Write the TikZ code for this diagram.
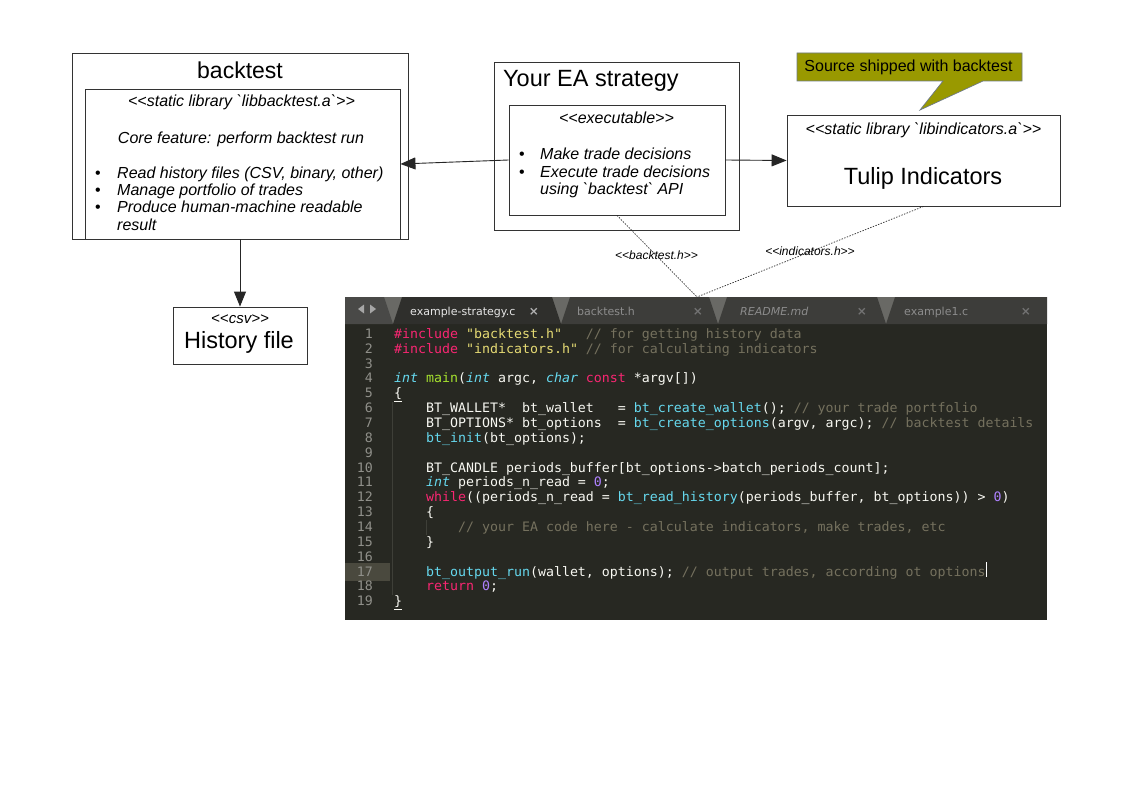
\documentclass[tikz,border=0pt]{standalone}
\usepackage{fontspec}
\usepackage{xcolor}
\usetikzlibrary{arrows.meta,positioning}

\newfontfamily\diafont{Liberation Sans}
\newfontfamily\uifont{DejaVu Sans}
\newfontfamily\codefont[FakeStretch=1.021]{DejaVu Sans Mono}

\definecolor{notefill}{RGB}{153,153,0}
\definecolor{noteline}{RGB}{110,122,135}
\definecolor{edbg}{HTML}{272822}
\definecolor{tabgap}{HTML}{696965}
\definecolor{tableft}{HTML}{494947}
\definecolor{tabon}{HTML}{2F2F2C}
\definecolor{taboff}{HTML}{3D3D3A}
\definecolor{curline}{RGB}{74,73,62}
\definecolor{mfg}{HTML}{F8F8F2}
\definecolor{mkw}{HTML}{F92672}
\definecolor{mstr}{HTML}{E6DB74}
\definecolor{mcm}{HTML}{75715E}
\definecolor{mfn}{HTML}{A6E22E}
\definecolor{mty}{HTML}{66D9EF}
\definecolor{mnum}{HTML}{AE81FF}
\definecolor{lnum}{HTML}{90908A}
\definecolor{guide}{HTML}{3E3F38}

% code tokens
\newcommand{\ckw}[1]{\textcolor{mkw}{#1}}
\newcommand{\cst}[1]{\textcolor{mstr}{#1}}
\newcommand{\ccm}[1]{\textcolor{mcm}{#1}}
\newcommand{\cfn}[1]{\textcolor{mfn}{#1}}
\newcommand{\cty}[1]{\textcolor{mty}{\itshape #1}}
\newcommand{\cbi}[1]{\textcolor{mty}{#1}}
\newcommand{\cnm}[1]{\textcolor{mnum}{#1}}
\newcommand{\cby}[1]{338.3+(#1-1)*14.86}
\newcommand{\tick}{\textasciigrave}

\begin{document}
\begin{tikzpicture}[x=1pt, y=-1pt,
    box/.style={draw=black!80, line width=0.9pt, inner sep=0pt},
    arr/.style={-{Triangle[length=15pt, width=12pt]}, line width=0.9pt, black!85},
    hdrlink/.style={dash pattern=on 1.4pt off 1.4pt, line width=0.7pt, black!85},
    title/.style={font=\diafont\fontsize{23.5}{26}\selectfont, inner sep=0pt, anchor=base},
    stereo/.style={font=\diafont\fontsize{16}{17.3}\selectfont\itshape, inner sep=0pt, anchor=base},
    hdr/.style={font=\diafont\fontsize{12}{14}\selectfont\itshape, inner sep=0pt, anchor=base},
    code/.style={font=\codefont\fontsize{13}{15}\selectfont, text=mfg, inner sep=0pt, anchor=base west},
    tabtxt/.style={font=\uifont\fontsize{11}{13}\selectfont, inner sep=0pt, anchor=base west},
    tabx/.style={font=\uifont\bfseries\fontsize{12}{13}\selectfont, inner sep=0pt}]
\fill[white] (0,0) rectangle (1123,794);
\useasboundingbox (0,0) rectangle (1123,794);

% backtest library
\node[box, minimum width=336pt, minimum height=186pt] (btouter) at (240,146) {};
\node[box, minimum width=315pt, minimum height=150pt] (btinner) at (242.5,164) {};
\node[title, font=\diafont\fontsize{23}{26}\selectfont] (bttitle) at (240,78.5) {backtest};
\node[stereo] (btlib) at (241.5,107) {<{}<static library \tick libbacktest.a\tick>{}>};
\node[stereo] (btcore) at (241,143.3) {Core feature: perform backtest run};
\node[stereo, anchor=base west] (btlist) at (95,178.3)
  {\begin{tabular}[t]{@{}p{22pt}@{}l@{}}
   {\upshape\textbullet} & Read history files (CSV, binary, other)\\
   {\upshape\textbullet} & Manage portfolio of trades\\
   {\upshape\textbullet} & Produce human-machine readable\\
   & result
   \end{tabular}};

% EA strategy
\node[box, minimum width=245pt, minimum height=168pt] (eaouter) at (616.5,146) {};
\node[box, minimum width=216pt, minimum height=110pt] (eainner) at (617,160) {};
\node[title, anchor=base west] (eatitle) at (503,87) {Your EA strategy};
\node[stereo] (eaexe) at (616.5,123.3) {<{}<executable>{}>};
\node[stereo, anchor=base west] (ealist) at (519,160)
  {\begin{tabular}[t]{@{}p{21pt}@{}l@{}}
   {\upshape\textbullet} & Make trade decisions\\
   {\upshape\textbullet} & Execute trade decisions\\
   & using \tick backtest\tick{} API
   \end{tabular}};

% tulip indicators and note
\node[box, minimum width=273pt, minimum height=91pt] (tulip) at (923.5,160.5) {};
\node[stereo] (tulib) at (923.5,135) {<{}<static library \tick libindicators.a\tick>{}>};
\node[title] (tuname) at (923,184.3) {Tulip Indicators};
\coordinate (notetip) at (920,110);
\filldraw[fill=notefill, draw=noteline, line width=0.7pt]
  (797,53) -- (1022,53) -- (1022,81) -- (983,81) -- (notetip) -- (943,81) -- (797,81) -- cycle;
\node[stereo, font=\diafont\fontsize{16}{17.3}\selectfont] (note) at (908.5,71.7) {Source shipped with backtest};

% history file
\node[box, minimum width=134pt, minimum height=57pt] (hist) at (240,335.5) {};
\node[stereo, font=\diafont\fontsize{15}{17}\selectfont\itshape] (histcsv) at (240,323.3) {<{}<csv>{}>};
\node[title] (histname) at (239,348.3) {History file};

% links
\draw[arr] (eainner.west) -- (btinner.east);
\draw[arr] (eainner.east) -- (tulip.west);
\draw[arr] (btouter.south) -- (hist.north);

% editor screenshot
\begin{scope}
  \clip (345,297) rectangle (1047,620);
  \fill[edbg] (345,297) rectangle (1047,620);
  \fill[tabgap] (345,297) rectangle (1047,324);
  \fill[tableft] (345,297) -- (384,297) -- (393,324) -- (345,324) -- cycle;
  \fill[tabon] (393,324) -- (402,297) -- (552,297) -- (561,324) -- cycle;
  \foreach \a/\b in {561/718, 718/886, 886/1056}
    \fill[taboff] (\a,324) -- ({\a+9},297) -- ({\b-9},297) -- (\b,324) -- cycle;
  \fill[black!35] (364,304.5) -- (364,313.5) -- (358,309) -- cycle;
  \fill[black!35] (370,304.5) -- (370,313.5) -- (376,309) -- cycle;
  \node[tabtxt, text=white!90!black] (tab1) at (410,315.3) {example-strategy.c};
  \node[tabtxt, text=black!45] (tab2) at (577,315.3) {backtest.h};
  \node[tabtxt, text=black!45, font=\uifont\itshape\fontsize{11}{13}\selectfont] (tab3) at (740,315.3) {README.md};
  \node[tabtxt, text=black!45] (tab4) at (904,315.3) {example1.c};
  \foreach \x/\c in {534/black!30, 698/black!55, 862/black!55, 1026/black!55}
    \node[tabx, text=\c] at (\x,311.5) {×};
  % gutter and guides
  \fill[curline] (345,563) rectangle (390,581);
  \foreach \n in {1,...,19}
    \node[code, anchor=base east, text=lnum] (n\n) at (373,{\cby{\n}}) {\n};
  \draw[guide, line width=0.8pt] (392,{\cby{6}-11}) -- (392,{\cby{18}+4});
  \draw[guide, line width=0.8pt] (426,{\cby{14}-11}) -- (426,{\cby{14}+4});
  % code lines
  \node[code] (c1) at (394,{\cby{1}}) {\ckw{\#include} \cst{"backtest.h"}~~~\ccm{// for getting history data}};
  \node[code] (c2) at (394,{\cby{2}}) {\ckw{\#include} \cst{"indicators.h"} \ccm{// for calculating indicators}};
  \node[code] (c4) at (394,{\cby{4}}) {\cty{int} \cfn{main}(\cty{int} argc, \cty{char} \ckw{const} *argv[])};
  \node[code] (c5) at (394,{\cby{5}}) {\underline{\{}};
  \node[code] (c6) at (394,{\cby{6}}) {~~~~BT\_WALLET*~~bt\_wallet~~~= \cbi{bt\_create\_wallet}(); \ccm{// your trade portfolio}};
  \node[code] (c7) at (394,{\cby{7}}) {~~~~BT\_OPTIONS* bt\_options~~= \cbi{bt\_create\_options}(argv, argc); \ccm{// backtest details}};
  \node[code] (c8) at (394,{\cby{8}}) {~~~~\cbi{bt\_init}(bt\_options);};
  \node[code] (c10) at (394,{\cby{10}}) {~~~~BT\_CANDLE periods\_buffer[bt\_options->batch\_periods\_count];};
  \node[code] (c11) at (394,{\cby{11}}) {~~~~\cty{int} periods\_n\_read = \cnm{0};};
  \node[code] (c12) at (394,{\cby{12}}) {~~~~\ckw{while}((periods\_n\_read = \cbi{bt\_read\_history}(periods\_buffer, bt\_options)) > \cnm{0})};
  \node[code] (c13) at (394,{\cby{13}}) {~~~~\{};
  \node[code] (c14) at (394,{\cby{14}}) {~~~~~~~~\ccm{// your EA code here - calculate indicators, make trades, etc}};
  \node[code] (c15) at (394,{\cby{15}}) {~~~~\}};
  \node[code] (c17) at (394,{\cby{17}}) {~~~~\cbi{bt\_output\_run}(wallet, options); \ccm{// output trades, according ot options}};
  \node[code] (c18) at (394,{\cby{18}}) {~~~~\ckw{return} \cnm{0};};
  \node[code] (c19) at (394,{\cby{19}}) {\underline{\}}};
  \draw[white, line width=1.6pt] (c17.east) ++(0.8,-10.5) -- ++(0,15);
\end{scope}

% header dependencies
\coordinate (hdrtip) at (697,297);
\draw[hdrlink] (eainner.south) -- (hdrtip);
\draw[hdrlink] (tulip.south) -- (hdrtip);
\node[hdr] (bth) at (656.5,259.3) {<{}<backtest.h>{}>};
\node[hdr] (indh) at (810,255) {<{}<indicators.h>{}>};
\end{tikzpicture}
\end{document}
